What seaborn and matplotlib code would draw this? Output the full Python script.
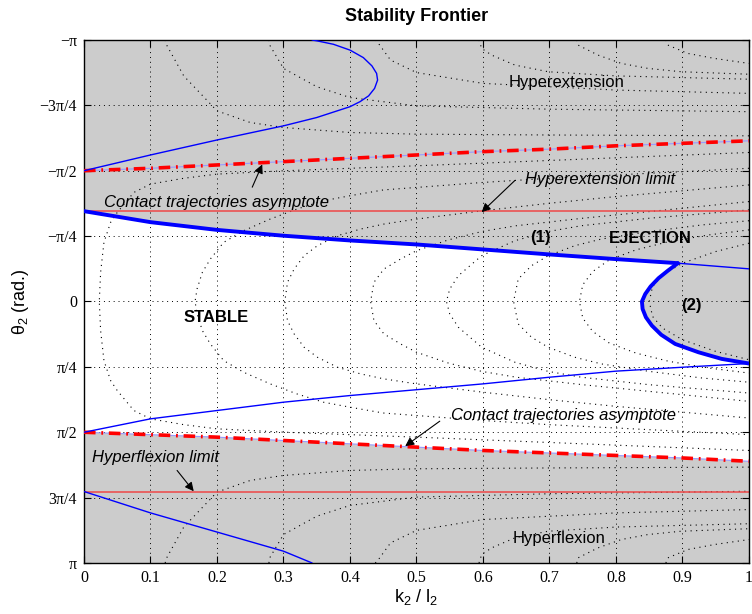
import matplotlib
matplotlib.use('Agg')
import matplotlib.pyplot as plt
import seaborn as sns
import numpy as np

PI = np.pi

# Stability frontier, part (1): thick blue boundary
FRONT1_X = [0.0, 0.1, 0.2, 0.3, 0.4, 0.5, 0.6, 0.7, 0.8, 0.893]
FRONT1_T = [-1.085, -0.953, -0.86, -0.79, -0.733, -0.685, -0.625, -0.565, -0.509, -0.46]
# thin continuation of (1) up to k2/l2 = 1
FRONT1_EXT_X = [0.893, 1.0]
FRONT1_EXT_T = [-0.46, -0.392]
# Stability frontier, part (2)
FRONT2_X = [0.893, 0.878, 0.864, 0.852, 0.844, 0.839, 0.840, 0.845, 0.854, 0.868, 0.889,
            0.924, 0.959, 1.0]
FRONT2_T = [-0.46, -0.37, -0.28, -0.18, -0.09, 0.0, 0.09, 0.19, 0.29, 0.40, 0.51,
            0.61, 0.69, 0.745]

# thin blue curves
BLUE_MID_X = [0.0, 0.1, 0.2, 0.3, 0.4, 0.5, 0.6, 0.7, 0.8, 0.9, 1.0]
BLUE_MID_T = [1.571, 1.41, 1.31, 1.21, 1.13, 1.06, 0.99, 0.91, 0.837, 0.79, 0.745]
BLUE_TOP_X = [0.0, 0.1, 0.2, 0.3, 0.35, 0.4, 0.415, 0.428, 0.437, 0.4415, 0.44, 0.433,
              0.42, 0.4, 0.375, 0.351, 0.343]
BLUE_TOP_T = [-1.571, -1.76, -1.94, -2.11, -2.21, -2.34, -2.40, -2.47, -2.56, -2.66, -2.74,
              -2.83, -2.93, -3.02, -3.09, -3.13, -3.1416]
BLUE_BOT_X = [0.0, 0.1, 0.2, 0.3, 0.343]
BLUE_BOT_T = [2.283, 2.54, 2.77, 3.0, 3.1416]

# contact trajectories asymptotes
ASYM_X = [0.0, 0.1, 0.2, 0.3, 0.4, 0.5, 0.6, 0.7, 0.8, 0.9, 1.0]
ASYM_UP_T = [-1.571, -1.60, -1.64, -1.68, -1.72, -1.76, -1.80, -1.83, -1.87, -1.90, -1.93]
ASYM_LO_T = [1.571, 1.60, 1.63, 1.67, 1.71, 1.75, 1.79, 1.82, 1.85, 1.88, 1.92]

HYPEREXT_LIMIT = -1.085
HYPERFLEX_LIMIT = 2.283

# contact trajectories (dotted), half curves with theta >= 0, symmetric in theta
STABLE_TRAJ = [
    ([0.023, 0.025, 0.03, 0.04, 0.05, 0.075, 0.1, 0.15, 0.2, 0.3, 0.4, 0.5, 0.75, 1.0],
     [0.0, 0.35, 0.71, 0.95, 1.07, 1.31, 1.41, 1.48, 1.53, 1.57, 1.60, 1.63, 1.71, 1.79]),
    ([0.167, 0.17, 0.178, 0.19, 0.21, 0.24, 0.28, 0.32, 0.36, 0.40, 0.45, 0.5, 0.6, 0.7, 0.8, 0.9, 1.0],
     [0.0, 0.15, 0.35, 0.51, 0.71, 0.85, 0.99, 1.11, 1.21, 1.27, 1.34, 1.37, 1.43, 1.48, 1.52, 1.56, 1.60]),
    ([0.302, 0.306, 0.316, 0.331, 0.351, 0.381, 0.416, 0.451, 0.5, 0.6, 0.7, 0.8, 0.9, 1.0],
     [0.0, 0.23, 0.39, 0.55, 0.67, 0.79, 0.87, 0.93, 0.99, 1.09, 1.18, 1.26, 1.33, 1.40]),
    ([0.431, 0.436, 0.451, 0.476, 0.5, 0.548, 0.598, 0.65, 0.75, 0.85, 1.0],
     [0.0, 0.23, 0.39, 0.51, 0.61, 0.74, 0.84, 0.91, 1.0, 1.08, 1.2]),
    ([0.545, 0.55, 0.563, 0.598, 0.648, 0.698, 0.748, 0.85, 1.0],
     [0.0, 0.15, 0.31, 0.55, 0.73, 0.84, 0.91, 1.0, 1.1]),
    ([0.646, 0.653, 0.673, 0.698, 0.738, 0.778, 0.85, 0.93, 1.0],
     [0.0, 0.27, 0.43, 0.55, 0.67, 0.75, 0.84, 0.92, 0.97]),
    ([0.745, 0.75, 0.765, 0.79, 0.83, 0.88, 0.94, 1.0],
     [0.0, 0.2, 0.36, 0.5, 0.62, 0.72, 0.8, 0.86]),
    ([0.85, 0.855, 0.87, 0.9, 0.95, 1.0],
     [0.0, 0.18, 0.32, 0.46, 0.6, 0.7]),
]
OUTER_TRAJ = [
    ([0.122, 0.125, 0.15, 0.2, 0.25, 0.3, 0.4, 0.5, 0.7, 1.0],
     [3.1416, 3.07, 2.71, 2.29, 2.15, 2.09, 2.03, 2.01, 2.0, 1.99]),
    ([0.278, 0.28, 0.3, 0.35, 0.4, 0.5, 0.7, 1.0],
     [3.1416, 3.07, 2.80, 2.58, 2.45, 2.35, 2.31, 2.28]),
    ([0.438, 0.441, 0.461, 0.5, 0.6, 0.7, 0.8, 1.0],
     [3.1416, 3.12, 2.9, 2.75, 2.62, 2.58, 2.54, 2.5]),
    ([0.594, 0.598, 0.613, 0.648, 0.698, 0.8, 1.0],
     [3.1416, 3.04, 2.96, 2.84, 2.76, 2.71, 2.67]),
    ([0.741, 0.743, 0.773, 0.808, 0.848, 0.898, 1.0],
     [3.1416, 3.08, 2.96, 2.86, 2.8, 2.76, 2.73]),
    ([0.875, 0.878, 0.908, 0.948, 1.0],
     [3.1416, 3.08, 2.98, 2.92, 2.86]),
]

X_TICKS = [0, 0.1, 0.2, 0.3, 0.4, 0.5, 0.6, 0.7, 0.8, 0.9, 1]
X_LABELS = ['0', '0.1', '0.2', '0.3', '0.4', '0.5', '0.6', '0.7', '0.8', '0.9', '1']
Y_TICKS = [-PI, -3 * PI / 4, -PI / 2, -PI / 4, 0, PI / 4, PI / 2, 3 * PI / 4, PI]
Y_LABELS = ['\u2212\u03c0', '\u22123\u03c0/4', '\u2212\u03c0/2', '\u2212\u03c0/4', '0',
            '\u03c0/4', '\u03c0/2', '3\u03c0/4', '\u03c0']

sns.set_style('ticks')
plt.rcParams['font.family'] = ['Liberation Sans', 'DejaVu Sans']
plt.rcParams['mathtext.default'] = 'regular'
plt.rcParams['text.color'] = 'k'
plt.rcParams['axes.labelcolor'] = 'k'
plt.rcParams['xtick.color'] = 'k'
plt.rcParams['ytick.color'] = 'k'

fig = plt.figure(figsize=(7.52, 6.14), dpi=100)
ax = fig.add_axes([0.1117, 0.0831, 0.8843, 0.8518])
ax.set_facecolor('#cccccc')
ax.set_axisbelow(True)

# white stable region
poly_x = np.concatenate([FRONT1_X, FRONT2_X[1:], [1.0], ASYM_X[::-1]])
poly_t = np.concatenate([FRONT1_T, FRONT2_T[1:], [ASYM_LO_T[-1]], ASYM_LO_T[::-1]])
ax.fill(poly_x, poly_t, color='white', lw=0, zorder=0.2)

dots = (0, (1, 4))


def line(x, y, **kw):
    sns.lineplot(x=x, y=y, sort=False, estimator=None, ax=ax, legend=False, **kw)


for xs, ts in STABLE_TRAJ:
    ts = np.asarray(ts)
    line(list(xs[::-1]) + list(xs[1:]), list(-ts[::-1]) + list(ts[1:]),
         color='k', lw=0.8, linestyle=dots, zorder=1)
for xs, ts in OUTER_TRAJ:
    ts = np.asarray(ts)
    line(xs, ts, color='k', lw=0.8, linestyle=dots, zorder=1)
    line(xs, -ts, color='k', lw=0.8, linestyle=dots, zorder=1)

# limits
ax.axhline(HYPEREXT_LIMIT, color='#ee4848', lw=1.1, zorder=2)
ax.axhline(HYPERFLEX_LIMIT, color='#ee4848', lw=1.1, zorder=2)

# asymptotes
for ts in (ASYM_UP_T, ASYM_LO_T):
    line(ASYM_X, ts, color='#9a9aff', lw=0.8, zorder=2)
    line(ASYM_X, ts, color='#ff0000', lw=2.6, linestyle=(0, (3.2, 1.6, 0.5, 1.6)), zorder=3)

# blue curves
line(BLUE_MID_X, BLUE_MID_T, color='#0000ff', lw=1.0, zorder=3)
line(BLUE_TOP_X, BLUE_TOP_T, color='#0000ff', lw=1.0, zorder=3)
line(BLUE_BOT_X, BLUE_BOT_T, color='#0000ff', lw=1.0, zorder=3)
line(FRONT1_EXT_X, FRONT1_EXT_T, color='#0000ff', lw=1.0, zorder=3)
line(FRONT1_X, FRONT1_T, color='#0000ff', lw=2.8, zorder=4)
line(FRONT2_X, FRONT2_T, color='#0000ff', lw=2.8, zorder=4)

ax.set_xlim(0, 1)
ax.set_ylim(PI, -PI)
ax.set_xticks(X_TICKS)
ax.set_xticklabels(X_LABELS, family='Liberation Serif', fontsize=11.5)
ax.set_yticks(Y_TICKS)
ax.set_yticklabels(Y_LABELS, family='Liberation Serif', fontsize=11.5)
ax.tick_params(direction='in', top=True, right=True, length=5, width=0.8, color='k', pad=5)
ax.grid(True, color='k', lw=0.7, linestyle=(0, (1, 4)))
for s in ax.spines.values():
    s.set_color('k')
    s.set_linewidth(1.0)

ax.set_xlabel('k$_2$ / l$_2$', fontsize=13, labelpad=1)
ax.set_ylabel('\u03b8$_2$ (rad.)', fontsize=13, labelpad=6)
ax.set_title('Stability Frontier', fontsize=13, fontweight='bold', pad=14)

# region labels
ax.text(0.726, -2.63, 'Hyperextension', fontsize=12, ha='center', va='center')
ax.text(0.714, 2.85, 'Hyperflexion', fontsize=12, ha='center', va='center')
ax.text(0.198, 0.196, 'STABLE', fontsize=12, fontweight='bold', ha='center', va='center')
ax.text(0.852, -0.753, 'EJECTION', fontsize=12, fontweight='bold', ha='center', va='center')
ax.text(0.687, -0.77, '(1)', fontsize=12, fontweight='bold', ha='center', va='center')
ax.text(0.914, 0.048, '(2)', fontsize=12, fontweight='bold', ha='center', va='center')

arrow = dict(arrowstyle='-|>', color='k', lw=0.8, mutation_scale=13, shrinkA=0, shrinkB=0)
ax.annotate('', xy=(0.268, -1.646), xytext=(0.253, -1.373), arrowprops=arrow, zorder=5)
ax.text(0.030, -1.19, 'Contact trajectories asymptote', fontsize=12, style='italic',
        ha='left', va='center')
ax.annotate('', xy=(0.598, -1.073), xytext=(0.648, -1.454), arrowprops=arrow, zorder=5)
ax.text(0.663, -1.46, 'Hyperextension limit', fontsize=12, style='italic', ha='left', va='center')
ax.annotate('', xy=(0.483, 1.738), xytext=(0.535, 1.438), arrowprops=arrow, zorder=5)
ax.text(0.552, 1.37, 'Contact trajectories asymptote', fontsize=12, style='italic',
        ha='left', va='center')
ax.annotate('', xy=(0.165, 2.28), xytext=(0.14, 2.03), arrowprops=arrow, zorder=5)
ax.text(0.0125, 1.87, 'Hyperflexion limit', fontsize=12, style='italic', ha='left', va='center')

fig.savefig('out.png', dpi=100)
